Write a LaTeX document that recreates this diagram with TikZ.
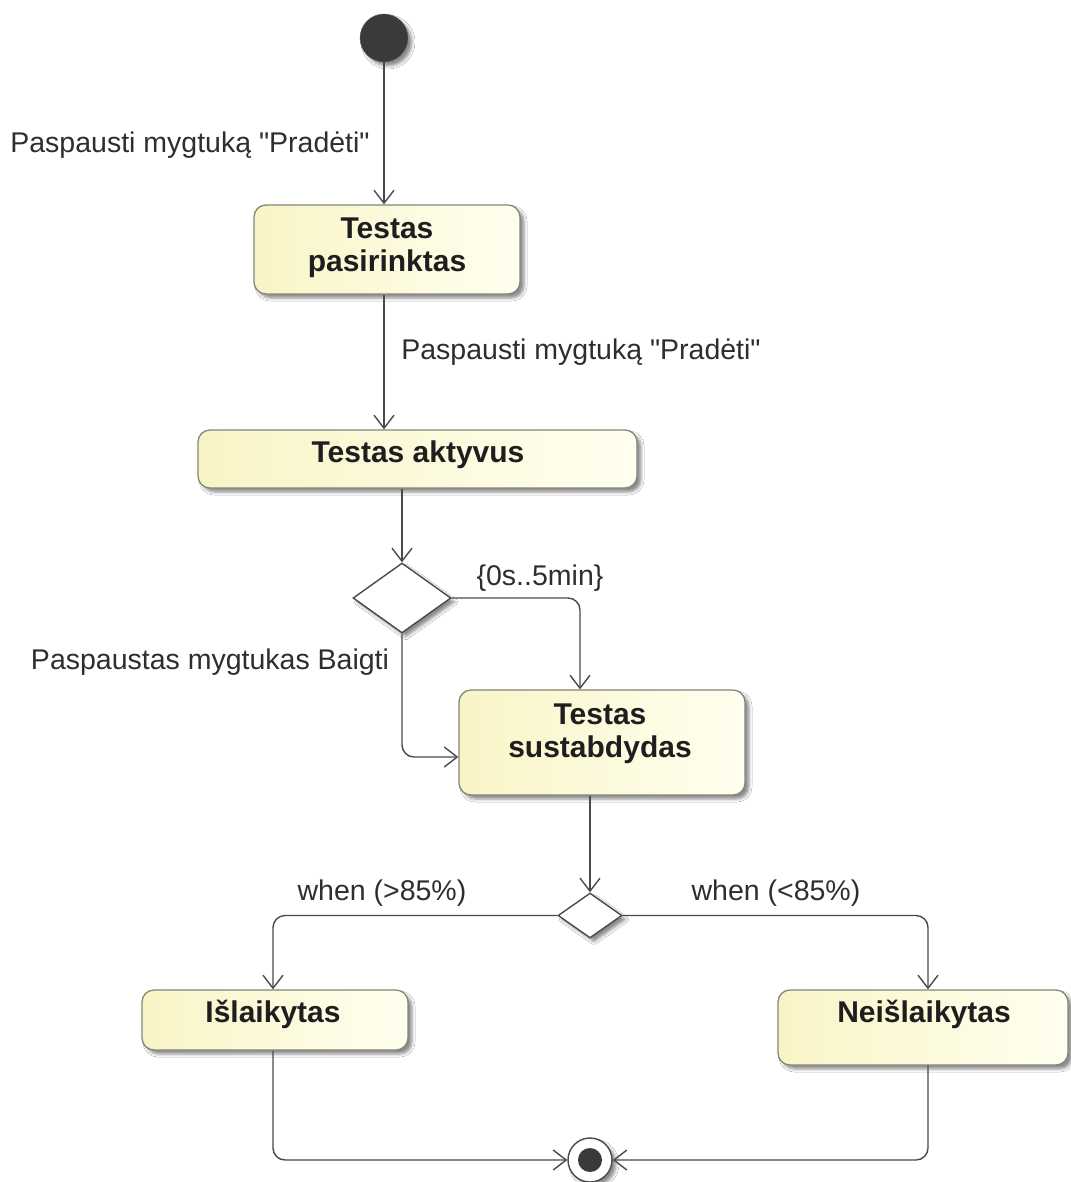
\documentclass[tikz,border=0pt]{standalone}
\usepackage{fontspec}
\setmainfont{Liberation Sans}
\usetikzlibrary{arrows.meta,shapes.geometric,shadows.blur,calc}

\definecolor{edgec}{HTML}{4A4A4A}
\definecolor{boxline}{HTML}{85857A}
\definecolor{boxL}{HTML}{F9F4C6}
\definecolor{boxR}{HTML}{FFFFF0}
\definecolor{textc}{HTML}{1E1E1E}
\definecolor{labelc}{HTML}{2E2E2E}
\definecolor{dotc}{HTML}{3A3A3A}

\begin{document}
\begin{tikzpicture}[x=1pt,y=-1pt,
  softshadow/.style={blur shadow={shadow xshift=4pt, shadow yshift=-4pt,
      shadow blur radius=3pt, shadow opacity=45}},
  stbox/.style={draw=boxline, line width=1.3pt, rounded corners=12pt,
      left color=boxL, right color=boxR, inner sep=0pt, softshadow},
  stname/.style={font=\bfseries\fontsize{30}{33}\selectfont, text=textc,
      align=center, inner sep=0pt, anchor=north},
  decision/.style={diamond, draw=edgec, line width=1.4pt, fill=white,
      inner sep=0pt, softshadow},
  trlabel/.style={font=\fontsize{28.5}{32}\selectfont, text=labelc, inner sep=0pt},
  flow/.style={draw=edgec, line width=1.4pt, rounded corners=12pt,
      -{Straight Barb[length=13pt,width=20pt]}}]

% canvas
\useasboundingbox[fill=white] (0,0) rectangle (1070,1182);

% initial and final pseudo-states
\node[circle, fill=dotc, draw=dotc!80, minimum size=48pt, inner sep=0pt, softshadow] (init) at (384,38) {};
\node[circle, draw=edgec, line width=1.4pt, fill=white, minimum size=44pt, inner sep=0pt, softshadow] (fin) at (590,1160) {};
\fill[dotc] (fin.center) circle[radius=12pt];

% states
\node[stbox, minimum width=266pt, minimum height=89pt] (b1) at (387,249.5) {};
\node[stname] (t1) at (387,218) {Testas\\pasirinktas};

\node[stbox, minimum width=439pt, minimum height=58pt] (b2) at (417.5,459) {};
\node[stname] (t2) at (418,441) {Testas aktyvus};

\node[stbox, minimum width=286pt, minimum height=105pt] (b3) at (602,742.5) {};
\node[stname] (t3) at (600,704) {Testas\\sustabdydas};

\node[stbox, minimum width=266pt, minimum height=60pt] (b4) at (275,1020) {};
\node[stname] (t4) at (273,1000) {Išlaikytas};

\node[stbox, minimum width=290pt, minimum height=75pt] (b5) at (923,1027.5) {};
\node[stname] (t5) at (924,1000) {Neišlaikytas};

% decisions
\node[decision, minimum width=98pt, minimum height=70pt] (d1) at (402,598) {};
\node[decision, minimum width=64pt, minimum height=45pt] (d2) at (590,915.5) {};

% transitions
\draw[flow] (init.south) -- (init.south |- b1.north);
\draw[flow] (b1.south -| init.south) -- (b2.north -| init.south);
\draw[flow] (d1.north |- b2.south) -- (d1.north);
\coordinate (b3top) at ($(b3.north)+(-22,0)$);
\coordinate (b3in) at ($(b3.west)+(0,14.5)$);
\draw[flow] (d1.east) -| (b3top);
\draw[flow] (d1.south) |- (b3in);
\draw[flow] (d2.north |- b3.south) -- (d2.north);
\coordinate (b4top) at ($(b4.north)+(-2,0)$);
\coordinate (b5top) at ($(b5.north)+(5,0)$);
\draw[flow] (d2.west) -| (b4top);
\draw[flow] (d2.east) -| (b5top);
\draw[flow] (b4top |- b4.south) |- (fin.west);
\draw[flow] (b5top |- b5.south) |- (fin.east);

% transition labels
\node[trlabel] (l1) at (190,145) {Paspausti mygtuką \textquotedbl Pradėti\textquotedbl};
\node[trlabel] (l2) at (581,352) {Paspausti mygtuką \textquotedbl Pradėti\textquotedbl};
\node[trlabel] (l3) at (540,578) {\{0s..5min\}};
\node[trlabel] (l4) at (210,662) {Paspaustas mygtukas Baigti};
\node[trlabel] (l5) at (382,893) {when (>85\%)};
\node[trlabel] (l6) at (776,893) {when (<85\%)};
\end{tikzpicture}
\end{document}
